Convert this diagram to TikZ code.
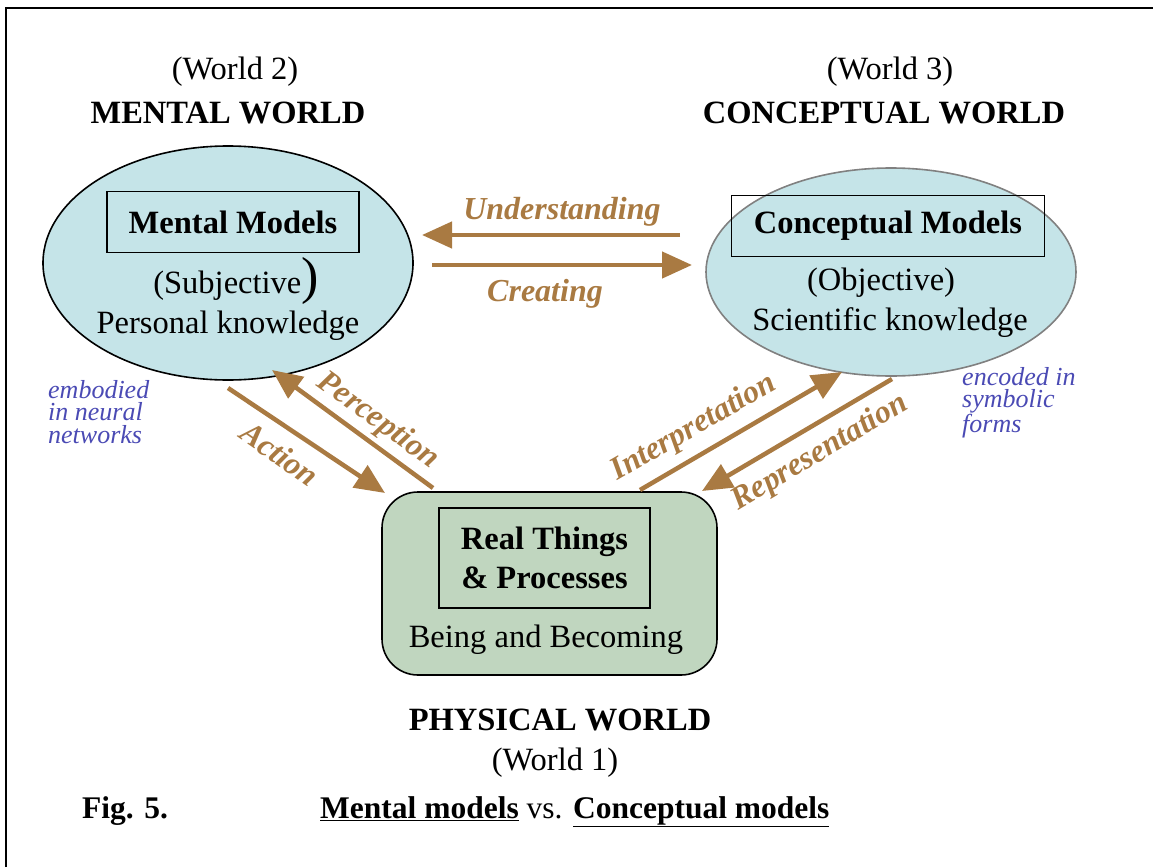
\documentclass[tikz,border=0pt]{standalone}
\usepackage{fontspec}
\setmainfont{Liberation Serif}
\usepackage{xcolor}
\usetikzlibrary{shapes, arrows.meta, positioning, calc}
\definecolor{skyfill}{HTML}{C5E4E8}
\definecolor{leaffill}{HTML}{C0D6BF}
\definecolor{arrowbrown}{HTML}{A97A42}
\definecolor{noteblue}{HTML}{4A4AB4}

\tikzset{
  worldtitle/.style={font=\fontsize{32.5}{36}\selectfont\bfseries, anchor=base, inner sep=0},
  plaintext/.style={font=\fontsize{32.5}{36}\selectfont, anchor=base, inner sep=0},
  captext/.style={font=\fontsize{31.5}{36}\selectfont, anchor=base west, inner sep=0},
  modelbox/.style={draw, line width=1.6pt, minimum height=61pt, inner sep=0,
    font=\fontsize{32.5}{39}\selectfont\bfseries, align=center},
  flow/.style={arrowbrown, line width=4.5pt, -{Triangle[length=30pt,width=26pt]}},
  flowlabel/.style={text=arrowbrown, inner sep=0, font=\fontsize{32}{36}\selectfont\bfseries\itshape},
  note/.style={text=noteblue, inner sep=0, anchor=north west, align=left,
    font=\fontsize{26}{22.5}\selectfont\itshape},
}

\begin{document}
\begin{tikzpicture}[x=1pt,y=-1pt]
  \useasboundingbox (0,0) rectangle (1153,867);
  \draw[line width=2pt, line join=miter] (6,867) -- (6,8) -- (1153,8);

  % the three worlds
  \node[ellipse, draw, line width=1.6pt, fill=skyfill, minimum width=370pt, minimum height=234pt] (mental) at (228,263) {};
  \node[ellipse, draw=gray, line width=1.6pt, fill=skyfill, minimum width=370pt, minimum height=208pt] (concept) at (891,272) {};
  \node[draw, line width=1.6pt, rounded corners=36pt, fill=leaffill, minimum width=335pt, minimum height=183pt] (physical) at (549.5,583.5) {};

  \node[modelbox, minimum width=252pt] (mentalbox) at (233,222) {Mental Models};
  \node[modelbox, minimum width=313pt] (conceptbox) at (888,226) {Conceptual Models};
  \node[modelbox, minimum width=211pt, minimum height=100pt] (realbox) at (544.5,558) {Real Things\\ \& Processes};

  \node[plaintext] (subj) at (236,293) {(Subjective{\fontsize{52}{52}\selectfont)}};
  \node[plaintext] (personal) at (228,333) {Personal knowledge};
  \node[plaintext] (obj) at (881,290) {(Objective)};
  \node[plaintext] (scient) at (890,330) {Scientific knowledge};
  \node[plaintext] (being) at (546,647) {Being and Becoming};

  % titles
  \node[plaintext] (w2) at (235,79) {(World 2)};
  \node[worldtitle] (w2title) at (228,123) {MENTAL WORLD};
  \node[plaintext] (w3) at (890,79) {(World 3)};
  \node[worldtitle] (w3title) at (884,123) {CONCEPTUAL WORLD};
  \node[worldtitle] (w1title) at (560,730) {PHYSICAL WORLD};
  \node[plaintext] (w1) at (555,770) {(World 1)};

  % arrows
  \coordinate (und-a) at (680,235);
  \coordinate (und-b) at (422,235);
  \coordinate (cre-a) at (432,265);
  \coordinate (cre-b) at (692,265);
  \coordinate (act-a) at (228,388);
  \coordinate (act-b) at (385,493);
  \coordinate (per-a) at (433,488);
  \coordinate (per-b) at (272,370);
  \coordinate (int-a) at (640,490);
  \coordinate (int-b) at (842,372);
  \coordinate (rep-a) at (892,379);
  \coordinate (rep-b) at (702,491);

  \draw[flow] (und-a) -- (und-b);
  \draw[flow] (cre-a) -- (cre-b);
  \draw[flow] (act-a) -- (act-b);
  \draw[flow] (per-a) -- (per-b);
  \draw[flow] (int-a) -- (int-b);
  \draw[flow] (rep-a) -- (rep-b);

  \node[flowlabel, anchor=base] (und) at (562,219) {Understanding};
  \node[flowlabel, anchor=base] (cre) at (545,301) {Creating};
  \node[flowlabel, rotate=-35] (act) at (280,454) {Action};
  \node[flowlabel, rotate=-36] (per) at (378,421) {Perception};
  \node[flowlabel, rotate=30] (int) at (694,428) {Interpretation};
  \node[flowlabel, rotate=31] (rep) at (820,453) {Representation};

  % side notes
  \node[note] (embod) at (48,380) {embodied\\in neural\\networks};
  \node[note] (encod) at (962,367) {encoded in\\symbolic\\forms};

  % caption
  \node[captext, font=\fontsize{31.5}{36}\selectfont\bfseries] (fig) at (82,818) {Fig. 5.};
  \node[captext] (caption) at (320,818)
    {\textbf{\underline{Mental models}} vs. \textbf{\underline{Conceptual models}}};
\end{tikzpicture}
\end{document}
